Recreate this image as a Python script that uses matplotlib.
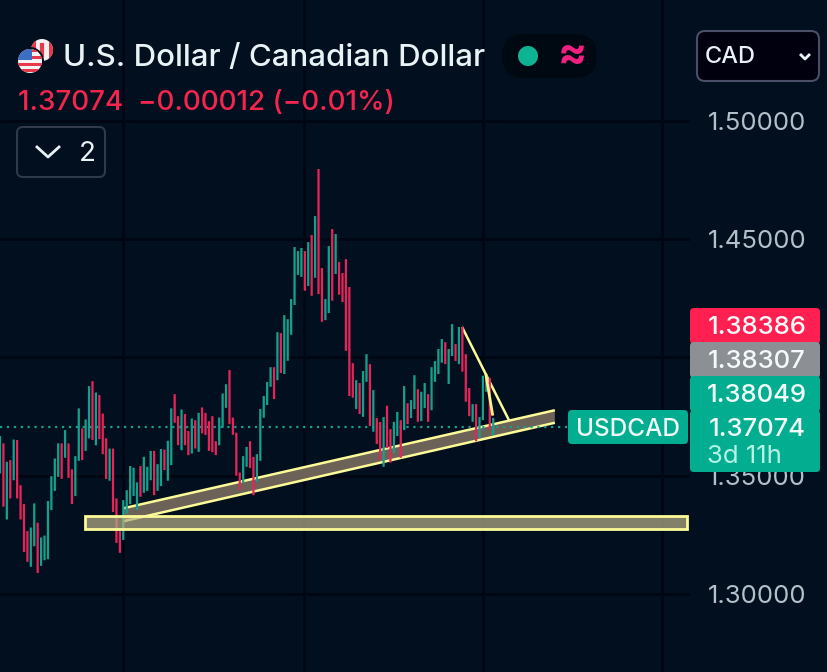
import matplotlib
matplotlib.use("Agg")
import matplotlib.pyplot as plt
from matplotlib.patches import Circle, FancyBboxPatch, Polygon, Rectangle

plt.rcParams['font.family'] = ['Inter', 'DejaVu Sans']

# candle bodies, one entry per bar (the wicks are not visible at this zoom)
highs = [
    1.3668, 1.3637, 1.3559, 1.3566, 1.3653, 1.3651, 1.3460, 1.3380, 1.3266, 1.3281,
    1.3383, 1.3302, 1.3239, 1.3247, 1.3393, 1.3498, 1.3573, 1.3637, 1.3637, 1.3693,
    1.3637, 1.3527, 1.3583, 1.3785, 1.3700, 1.3738, 1.3879, 1.3900, 1.3852, 1.3841,
    1.3763, 1.3658, 1.3615, 1.3615, 1.3404, 1.3266, 1.3397, 1.3439, 1.3541, 1.3534,
    1.3472, 1.3541, 1.3580, 1.3538, 1.3605, 1.3605, 1.3549, 1.3613, 1.3611, 1.3648,
    1.3785, 1.3845, 1.3752, 1.3780, 1.3761, 1.3689, 1.3742, 1.3735, 1.3766, 1.3789,
    1.3766, 1.3731, 1.3752, 1.3646, 1.3746, 1.3848, 1.3887, 1.3947, 1.3746, 1.3682,
    1.3514, 1.3583, 1.3622, 1.3646, 1.3580, 1.3591, 1.3782, 1.3837, 1.3896, 1.3959,
    1.3959, 1.4107, 1.4103, 1.4179, 1.4162, 1.4247, 1.4467, 1.4450, 1.4463, 1.4450,
    1.4488, 1.4518, 1.4598, 1.4797, 1.4378, 1.4247, 1.4471, 1.4543, 1.4522, 1.4404,
    1.4357, 1.4416, 1.4298, 1.3976, 1.3904, 1.3892, 1.3943, 1.4014, 1.3972, 1.3862,
    1.3744, 1.3727, 1.3748, 1.3796, 1.3697, 1.3728, 1.3770, 1.3735, 1.3879, 1.3807,
    1.3820, 1.3925, 1.3866, 1.3855, 1.3892, 1.3845, 1.3959, 1.3985, 1.4036, 1.4078,
    1.4065, 1.4036, 1.4141, 1.4057, 1.4129, 1.4129, 1.4014, 1.3871, 1.3803, 1.3803,
    1.3748, 1.3923, 1.3930, 1.3914, 1.3744,
]
lows = [
    1.3510, 1.3369, 1.3315, 1.3404, 1.3481, 1.3404, 1.3315, 1.3178, 1.3136, 1.3115,
    1.3202, 1.3089, 1.3119, 1.3143, 1.3147, 1.3355, 1.3436, 1.3495, 1.3487, 1.3576,
    1.3491, 1.3380, 1.3414, 1.3563, 1.3566, 1.3605, 1.3658, 1.3651, 1.3629, 1.3655,
    1.3591, 1.3486, 1.3479, 1.3347, 1.3216, 1.3174, 1.3228, 1.3340, 1.3380, 1.3414,
    1.3355, 1.3411, 1.3428, 1.3436, 1.3481, 1.3418, 1.3436, 1.3456, 1.3524, 1.3479,
    1.3545, 1.3724, 1.3629, 1.3608, 1.3629, 1.3587, 1.3594, 1.3615, 1.3601, 1.3679,
    1.3672, 1.3605, 1.3600, 1.3587, 1.3629, 1.3703, 1.3787, 1.3718, 1.3673, 1.3500,
    1.3442, 1.3469, 1.3538, 1.3533, 1.3418, 1.3474, 1.3563, 1.3745, 1.3799, 1.3876,
    1.3824, 1.3904, 1.3934, 1.3930, 1.3986, 1.4096, 1.4222, 1.4349, 1.4341, 1.4282,
    1.4302, 1.4261, 1.4337, 1.4268, 1.4151, 1.4158, 1.4188, 1.4240, 1.4353, 1.4265,
    1.4234, 1.4028, 1.3837, 1.3830, 1.3782, 1.3761, 1.3749, 1.3897, 1.3710, 1.3686,
    1.3634, 1.3566, 1.3538, 1.3617, 1.3555, 1.3597, 1.3668, 1.3576, 1.3693, 1.3718,
    1.3744, 1.3782, 1.3728, 1.3731, 1.3786, 1.3728, 1.3777, 1.3897, 1.3930, 1.3978,
    1.3972, 1.3888, 1.4006, 1.3985, 1.3972, 1.3940, 1.3813, 1.3752, 1.3728, 1.3646,
    1.3659, 1.3735, 1.3855, 1.3697, 1.3672,
]
directions = (
    "GRGRGRRRRG" "GRGGGGGGRG" "RRGGRGGRGR" "RRGRRRGGGG" "GRGGGRGGRG"
    "GRRGRRGRGR" "RRRRGGGRRR" "RGGRRGGGGG" "RGRGGGGGGR" "GRGRRGGRGR"
    "RRRRGRGGRG" "RRGRRGGRGR" "GGRGGRGGGG" "RGGRGRRRGR" "GGGRG"
)

price_ticks = [1.50, 1.45, 1.40, 1.35, 1.30]
last_price = 1.37074
price_labels = ["1.38386", "1.38307", "1.38049", "1.37074"]

# drawings, as (bar, price)
channel_top = [(36.2, 1.3363), (162, 1.3777)]
channel_bottom = [(36.2, 1.3308), (162, 1.3724)]
support_bars = (24.8, 200.6)
support_prices = (1.3274, 1.3331)
wedge_line = [(134.9, 1.4129), (148.6, 1.3735)]
wedge_short = [(141.9, 1.3925), (143.8, 1.3760)]

BG = "#010f1e"
GRID = "#000612"
TEAL = "#14a08c"
RED = "#e6245a"
YELLOW = "#fdfb98"

fig = plt.figure(figsize=(8.27, 6.72), dpi=100, facecolor=BG)

# price chart: bars spaced 3.425 px, 2365 px per unit of price
ax = fig.add_axes([0, 0, 1, 1], facecolor=BG)
ax.set_xlim(0, 827 / 3.425)
ax.set_ylim(1.26702, 1.55116)
ax.axis("off")

for p in price_ticks:
    ax.plot([0, 688 / 3.425], [p, p], color=GRID, lw=2, zorder=1)
for vx in [123, 304, 483, 662]:
    ax.axvline(vx / 3.425, color=GRID, lw=2, zorder=1)

ax.add_patch(Polygon(channel_top + channel_bottom[::-1], closed=True,
                     facecolor="#6c6257", edgecolor="none", zorder=2))
for seg in (channel_top, channel_bottom, wedge_line):
    ax.plot(*zip(*seg), color=YELLOW, lw=1.8, zorder=2.5, solid_capstyle="butt")

ax.plot([0, 568 / 3.425], [last_price, last_price], color="#1a9e8c", lw=1.6,
        linestyle=(0, (1, 2.1)), zorder=2.6)

idx = list(range(len(highs)))
colors = [TEAL if d == "G" else RED for d in directions]
bars = ax.bar(idx, [h - l for h, l in zip(highs, lows)], bottom=lows, width=0.66,
              color=colors, linewidth=0, zorder=3)
for b in bars:
    b.set_snap(False)

ax.plot(*zip(*wedge_short), color="#fff38a", lw=2, zorder=3.5)
ax.add_patch(Rectangle((support_bars[0], support_prices[0]),
                       support_bars[1] - support_bars[0],
                       support_prices[1] - support_prices[0],
                       facecolor="#b5ad85", alpha=0.72, edgecolor="none", zorder=4))
ax.add_patch(Rectangle((support_bars[0], support_prices[0]),
                       support_bars[1] - support_bars[0],
                       support_prices[1] - support_prices[0],
                       facecolor="none", edgecolor=YELLOW, lw=2, zorder=4.1))

# interface overlay in pixel coordinates
ui = fig.add_axes([0, 0, 1, 1], facecolor="none")
ui.set_xlim(0, 827)
ui.set_ylim(672, 0)
ui.axis("off")


def rbox(x0, y0, x1, y1, face, edge="none", r=4, lw=1.5, z=5):
    ui.add_patch(FancyBboxPatch((x0 + r, y0 + r), x1 - x0 - 2 * r, y1 - y0 - 2 * r,
                                boxstyle=f"round,pad={r},rounding_size={r}",
                                facecolor=face, edgecolor=edge, lw=lw, zorder=z))


for p in price_ticks:
    y = 121 + (1.5 - p) * 2365
    ui.text(757, y + 2.5, f"{p:.5f}", color="#b2c1c9", fontsize=18.5, ha="center",
            va="center", zorder=4)

rbox(690, 308, 820, 344, "#ff1f50")
rbox(690, 342, 820, 378, "#8c8f94", z=5.1)
rbox(690, 376, 820, 412, "#02ae8f", z=5.2)
rbox(690, 410, 820, 472, "#02ae8f", z=5.3)
rbox(568, 410, 688, 444, "#02ae8f", z=5.3)
for y, s in zip([325, 359, 393, 427], price_labels):
    ui.text(757, y + 2.5, s, color="#f2fbfa", fontsize=18.5, ha="center", va="center",
            zorder=6, fontweight="medium")
ui.text(707, 456.5, "3d 11h", color="#b5f2e8", fontsize=18.5, ha="left",
        va="center", zorder=6)
ui.text(628, 429, "USDCAD", color="#f2fbfa", fontsize=17.5, ha="center", va="center",
        zorder=6, fontweight="medium")

ui.text(63, 58, "U.S. Dollar / Canadian Dollar", color="#e9f3f6", fontsize=22.5,
        ha="left", va="center", zorder=6, fontweight="medium")
ui.text(18, 103, "1.37074  \u22120.00012 (\u22120.01%)", color="#f2254f", fontsize=20,
        ha="left", va="center", zorder=6, fontweight="medium")

rbox(17, 127, 105, 177, BG, edge="#2f3a4a", r=6, lw=1.5)
ui.plot([37, 48, 59], [147, 157, 147], color="#e9f3f6", lw=2, zorder=6)
ui.text(87, 154, "2", color="#e9f3f6", fontsize=20, ha="center", va="center", zorder=6)

rbox(502, 34, 597, 78, "#000812", r=22)
ui.add_patch(Circle((528, 56), 10, facecolor="#0fb394", edgecolor="none", zorder=6))
ui.text(572, 56, "\u2248", color="#f01f80", fontsize=31, ha="center", va="center",
        zorder=6, fontweight="bold")

rbox(697, 31, 819, 81, "#00000f", edge="#4a4e66", r=8, lw=1.5)
ui.text(705, 57, "CAD", color="#e9f3f6", fontsize=17, ha="left", va="center", zorder=6,
        fontweight="medium")
ui.plot([801, 805, 809], [55, 59, 55], color="#e9f3f6", lw=2, zorder=6)

# flags
ca = Circle((42, 50), 11, facecolor="#f4f0f0", edgecolor="none", zorder=6)
ui.add_patch(ca)
for x0, w in [(31, 4.5), (48.5, 4.5)]:
    bar = Rectangle((x0, 39), w, 22, facecolor="#e8384a", zorder=6.1)
    ui.add_patch(bar)
    bar.set_clip_path(ca)
ui.plot([42, 42], [45, 55], color="#e8384a", lw=3, zorder=6.1)
ui.add_patch(Circle((30, 61), 14, facecolor=BG, edgecolor="none", zorder=6.2))
us = Circle((30, 61), 12, facecolor="#f4f4f4", edgecolor="none", zorder=6.3)
ui.add_patch(us)
for y0 in [49, 56, 63, 69]:
    st = Rectangle((18, y0), 24, 3.2, facecolor="#e8384a", zorder=6.4)
    ui.add_patch(st)
    st.set_clip_path(us)
canton = Rectangle((18, 49), 14, 11, facecolor="#3a6fc4", zorder=6.5)
ui.add_patch(canton)
canton.set_clip_path(us)

fig.savefig("out.png", dpi=100, facecolor=BG)
